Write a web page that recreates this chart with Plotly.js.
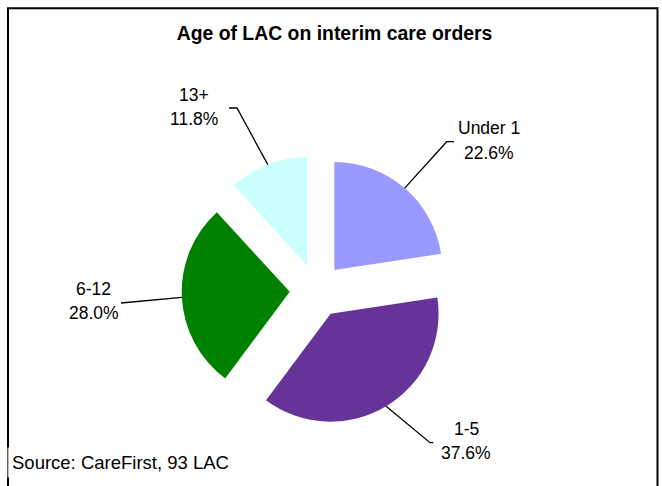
<!DOCTYPE html>
<html>
<head>
<meta charset="utf-8">
<script src="https://cdn.plot.ly/plotly-3.0.1.min.js"></script>
<style>html,body{margin:0;padding:0;background:#fff;}#chart{width:662px;height:486px;}</style>
</head>
<body>
<div id="chart"></div>
<script>
// ---- data ----
const categories = ["Under 1", "1-5", "6-12", "13+"];
const percentages = [22.6, 37.6, 28.0, 11.8];
const sliceColors = ["#9999FF", "#663399", "#008000", "#CCFFFF"];
const chartTitle = "Age of LAC on interim care orders";
const sourceNote = "Source: CareFirst, 93 LAC";

// ---- layout constants (pixels) ----
const W = 662, H = 486;
const PULL = 0.25;
const pieCenter = [316.7, 290.5];
const pieHalf = 135;                  // half-size of pie domain
// label block centres and leader-line elbow/end points, in pixels
const labelPos = [[489, 140.5], [466, 441], [93.5, 301], [194, 107]];
const leaderPts = [
  [[446.7, 141.7], [454, 141.7]],
  [[430, 442.7], [433.3, 442.7]],
  [[121, 303]],
  [[237, 108], [229, 108]]
];

const px = x => x / W;
const py = y => 1 - y / H;

const pie = {
  type: "pie",
  values: percentages,
  labels: categories,
  sort: false,
  direction: "clockwise",
  rotation: 0,
  pull: categories.map(() => PULL),
  marker: { colors: sliceColors, line: { width: 0 } },
  textinfo: "none",
  hoverinfo: "none",
  showlegend: false,
  domain: {
    x: [px(pieCenter[0] - pieHalf), px(pieCenter[0] + pieHalf)],
    y: [py(pieCenter[1] + pieHalf), py(pieCenter[1] - pieHalf)]
  }
};

// leader lines derived from data angles
const total = percentages.reduce((a, b) => a + b, 0);
const shapes = [];
const annotations = [];
let cum = 0;
percentages.forEach((v, i) => {
  const th = 2 * Math.PI * (cum + v / 2) / total;
  cum += v;
  const R = pieHalf; // r*(1+pull)
  const sx = pieCenter[0] + R * Math.sin(th);
  const sy = pieCenter[1] - R * Math.cos(th);
  let path = "M " + px(sx) + "," + py(sy);
  leaderPts[i].forEach(p => { path += " L " + px(p[0]) + "," + py(p[1]); });
  shapes.push({
    type: "path", xref: "paper", yref: "paper", path: path,
    line: { color: "#000", width: 1.3 }
  });
  const [lx, ly] = labelPos[i];
  annotations.push({
    xref: "paper", yref: "paper", x: px(lx), y: py(ly - 12.25),
    xanchor: "center", yanchor: "middle", showarrow: false,
    text: categories[i],
    font: { family: "Liberation Sans, Arial, sans-serif", size: 17.5, color: "#000" }
  });
  annotations.push({
    xref: "paper", yref: "paper", x: px(lx), y: py(ly + 12.25),
    xanchor: "center", yanchor: "middle", showarrow: false,
    text: v.toFixed(1) + "%",
    font: { family: "Liberation Sans, Arial, sans-serif", size: 17.5, color: "#000" }
  });
});

// chart border
shapes.push({
  type: "rect", xref: "paper", yref: "paper",
  x0: px(8), x1: px(657.5), y0: py(500), y1: py(8.3),
  line: { color: "#000", width: 2 }, fillcolor: "rgba(0,0,0,0)"
});

annotations.push({
  xref: "paper", yref: "paper", x: px(7), y: py(462),
  xanchor: "left", yanchor: "middle", showarrow: false,
  text: sourceNote, bgcolor: "rgba(255,255,255,0.75)", borderpad: 4,
  font: { family: "Liberation Sans, Arial, sans-serif", size: 18.5, color: "#000" }
});

const layout = {
  width: W, height: H,
  margin: { l: 0, r: 0, t: 0, b: 0 },
  paper_bgcolor: "#fff",
  title: {
    text: "<b>" + chartTitle + "</b>",
    xref: "paper", yref: "paper", x: px(334.5), y: py(33),
    xanchor: "center", yanchor: "middle",
    font: { family: "Liberation Sans, Arial, sans-serif", size: 19.4, color: "#000" }
  },
  shapes: shapes,
  annotations: annotations
};

Plotly.newPlot("chart", [pie], layout, { staticPlot: true });
</script>
</body>
</html>
